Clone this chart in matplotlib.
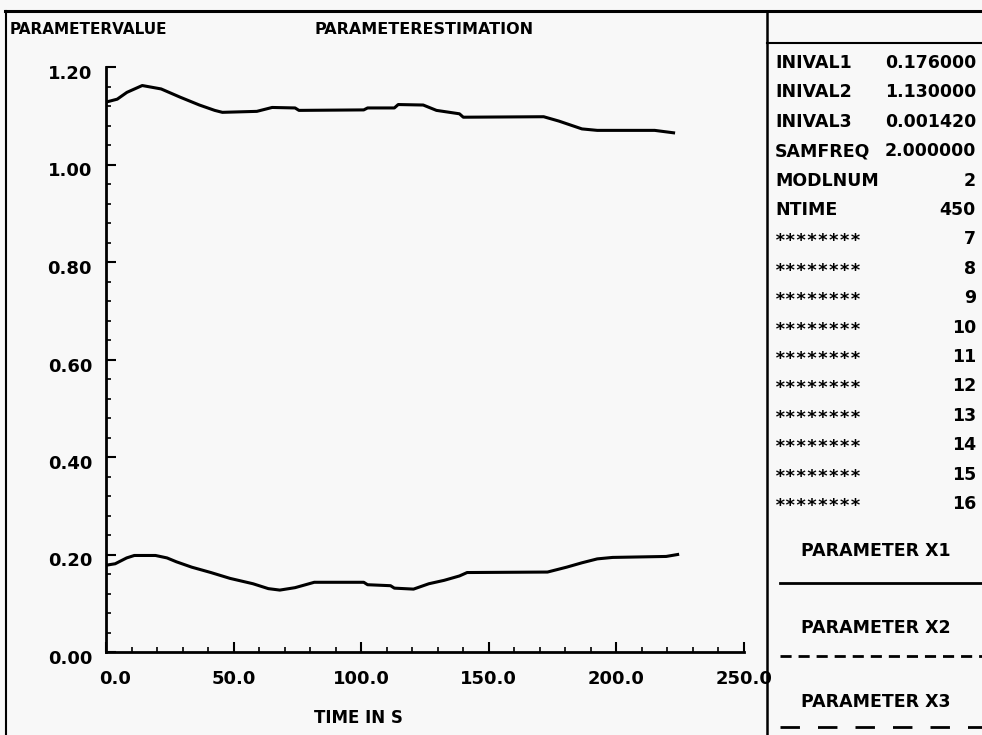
import matplotlib
matplotlib.use("Agg")
import matplotlib.pyplot as plt
from matplotlib.lines import Line2D
from matplotlib.ticker import MultipleLocator, FixedLocator
import matplotlib.transforms as mtransforms

# ---------------- data ----------------
t_x1 = [0, 3.6, 8.1, 11.1, 19.4, 23.9, 27.6, 33.6, 41.1, 48.6, 57.6, 63.6, 68.1,
        74.1, 81.6, 101, 102.5, 111.5, 113, 120.5, 126.5, 132.5, 138.5, 141.5,
        173, 180.5, 186.5, 192.5, 198.5, 219.5, 224]
v_x1 = [0.178, 0.181, 0.193, 0.198, 0.198, 0.193, 0.185, 0.174, 0.163, 0.151,
        0.140, 0.130, 0.127, 0.132, 0.143, 0.143, 0.138, 0.136, 0.131, 0.129,
        0.140, 0.147, 0.156, 0.163, 0.164, 0.174, 0.183, 0.191, 0.194, 0.196, 0.200]

t_x2 = [0, 4.4, 8.2, 14.2, 21.6, 29.1, 36.6, 42.6, 45.6, 59.1, 65.1, 74.1, 75.6,
        101, 102.5, 113, 114.5, 124.3, 129.5, 138.5, 140, 171.5, 177.5, 186.5,
        192.5, 215, 222.4]
v_x2 = [1.128, 1.134, 1.148, 1.162, 1.155, 1.138, 1.122, 1.111, 1.107, 1.109,
        1.117, 1.116, 1.111, 1.112, 1.116, 1.116, 1.123, 1.122, 1.111, 1.104,
        1.097, 1.098, 1.089, 1.073, 1.070, 1.070, 1.065]

x_ticks = [0, 50, 100, 150, 200, 250]
x_ticklabels = ["0.0", "50.0", "100.0", "150.0", "200.0", "250.0"]
y_ticks = [0.0, 0.2, 0.4, 0.6, 0.8, 1.0, 1.2]
y_ticklabels = ["0.00", "0.20", "0.40", "0.60", "0.80", "1.00", "1.20"]

info_labels = ["INIVAL1", "INIVAL2", "INIVAL3", "SAMFREQ", "MODLNUM", "NTIME",
               "********", "********", "********", "********", "********",
               "********", "********", "********", "********", "********"]
info_values = ["0.176000", "1.130000", "0.001420", "2.000000", "2", "450",
               "7", "8", "9", "10", "11", "12", "13", "14", "15", "16"]
legend_names = ["PARAMETER X1", "PARAMETER X2", "PARAMETER X3"]

# ---------------- figure ----------------
W, H = 982, 735
BG = "#f8f8f8"
plt.rcParams["font.family"] = ["DejaVu Sans"]
plt.rcParams["font.weight"] = "bold"
plt.rcParams["lines.scale_dashes"] = False
fig = plt.figure(figsize=(W / 100, H / 100), dpi=100, facecolor=BG)

def fx(px):
    return px / W

def fy(py):
    return 1 - py / H

# axes placement (pixel coords): x 106..744, y 652 (0) .. 67 (1.2)
ax = fig.add_axes([fx(106), fy(652), fx(744) - fx(106), fy(67) - fy(652)])
ax.set_facecolor("none")
ax.plot(t_x1, v_x1, color="black", lw=2.2, solid_joinstyle="round")
ax.plot(t_x2, v_x2, color="black", lw=2.2, solid_joinstyle="round")
ax.set_xlim(0, 250)
ax.set_ylim(0, 1.2)
for s in ["top", "right"]:
    ax.spines[s].set_visible(False)
for s in ["left", "bottom"]:
    ax.spines[s].set_linewidth(2.0)

ax.xaxis.set_major_locator(FixedLocator(x_ticks))
ax.set_xticklabels(x_ticklabels)
ax.xaxis.set_minor_locator(MultipleLocator(10))
ax.yaxis.set_major_locator(FixedLocator(y_ticks))
ax.set_yticklabels(y_ticklabels)
ax.yaxis.set_minor_locator(MultipleLocator(0.04))
ax.tick_params(axis="both", which="major", direction="in", length=7, width=1.5,
               labelsize=13)
ax.tick_params(axis="both", which="minor", direction="in", length=3.5, width=1.2)
ax.tick_params(axis="y", pad=10)
ax.tick_params(axis="x", pad=13)

# shift y tick labels slightly down, first x label slightly right
off_y = mtransforms.ScaledTranslation(0, -5 / 100, fig.dpi_scale_trans)
for lab in ax.get_yticklabels():
    lab.set_transform(lab.get_transform() + off_y)
xl = ax.get_xticklabels()
xl[0].set_transform(xl[0].get_transform() +
                    mtransforms.ScaledTranslation(9 / 100, 0, fig.dpi_scale_trans))

# ---------------- frame ----------------
def hline(y, x0, x1, lw=2.0, **kw):
    fig.add_artist(Line2D([fx(x0), fx(x1)], [fy(y), fy(y)], color="black",
                          lw=lw, transform=fig.transFigure, **kw))

def vline(x, y0, y1, lw=2.0):
    fig.add_artist(Line2D([fx(x), fx(x)], [fy(y0), fy(y1)], color="black",
                          lw=lw, transform=fig.transFigure))

hline(11, 5, 982, lw=2.2)
vline(6, 11, 735, lw=1.5)
vline(767, 11, 735, lw=1.8)
hline(43, 767, 982, lw=1.5)

# ---------------- titles ----------------
fig.text(fx(10), fy(29), "PARAMETERVALUE", fontsize=11, ha="left", va="center")
fig.text(fx(314), fy(29), "PARAMETERESTIMATION", fontsize=11.5, ha="left", va="center")
fig.text(fx(358), fy(718), "TIME IN S", fontsize=12, ha="center", va="center")

# ---------------- info panel ----------------
row0, dy = 63, 29.4
for i, (lab, val) in enumerate(zip(info_labels, info_values)):
    y = row0 + i * dy
    if lab.startswith("*"):
        fig.text(fx(775), fy(y + 2), lab, fontsize=13, ha="left", va="center",
                 family="DejaVu Sans Mono")
    else:
        fig.text(fx(775), fy(y), lab, fontsize=12.5, ha="left", va="center")
    fig.text(fx(976), fy(y), val, fontsize=12.5, ha="right", va="center")

# ---------------- legend ----------------
leg_text_y = [551, 628, 702]
leg_line_y = [583, 656, 727]
leg_styles = ["-", (0, (8, 5)), (0, (14, 13))]
for name, ty, ly, ls in zip(legend_names, leg_text_y, leg_line_y, leg_styles):
    fig.text(fx(876), fy(ty), name, fontsize=12.5, ha="center", va="center")
    fig.add_artist(Line2D([fx(780), fx(982)], [fy(ly), fy(ly)], color="black",
                          lw=2.0, linestyle=ls, transform=fig.transFigure))

fig.savefig("out.png", dpi=100, facecolor=BG)
